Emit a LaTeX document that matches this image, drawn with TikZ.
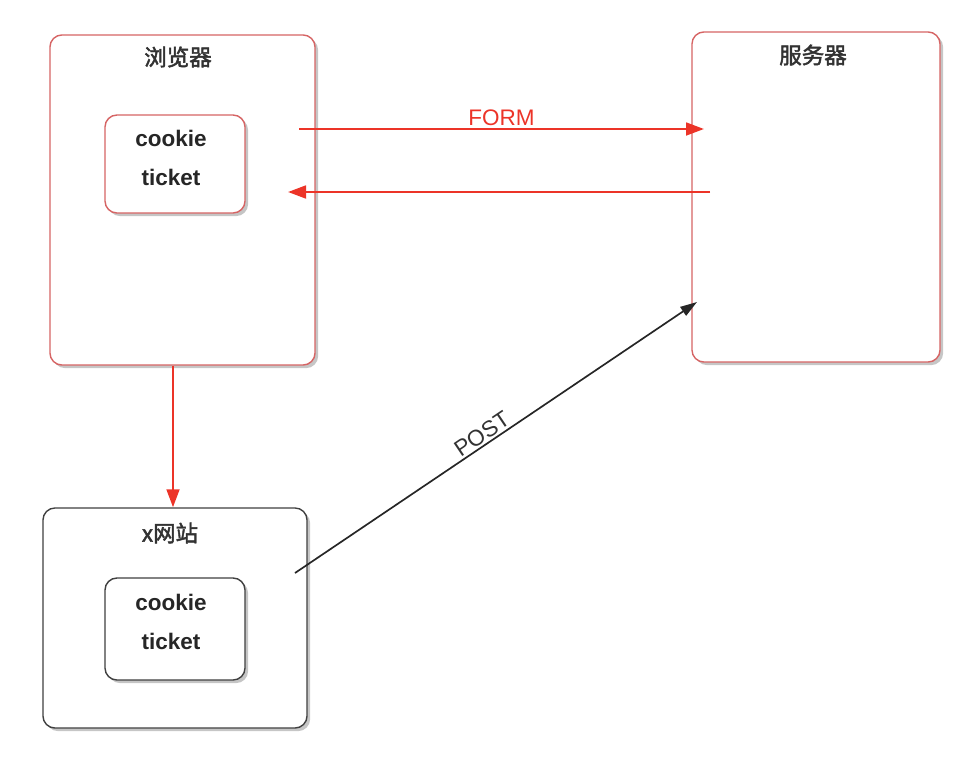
\documentclass[tikz,border=0pt]{standalone}
\usepackage{fontspec}
\setsansfont{Liberation Sans}
\newfontfamily\cjk{Noto Sans CJK SC}[FakeBold=2]
\usepackage{tikz}
\usetikzlibrary{arrows.meta,shadows}

\definecolor{boxred}{RGB}{214,100,100}
\definecolor{arrowred}{RGB}{236,52,40}
\definecolor{titlegrey}{RGB}{50,50,50}

\tikzset{
	panel/.style={draw=boxred, line width=1pt, rounded corners=.3cm, fill=white,
		drop shadow={shadow xshift=2.2pt, shadow yshift=-2.2pt, opacity=.45}},
	darkpanel/.style={panel, draw=black!75},
	paneltitle/.style={font=\cjk\fontsize{16}{16}\selectfont, text=titlegrey},
	tokentext/.style={font=\sffamily\bfseries\fontsize{16}{27.7}\selectfont, align=center, text=black!85},
	redarrow/.style={draw=arrowred, line width=1.7pt, -{Triangle[length=.45cm,width=.32cm]}},
	postarrow/.style={draw=black!85, line width=1.2pt, -{Triangle[length=.42cm,width=.26cm]}},
	arrowlabel/.style={font=\sffamily\fontsize{16}{16}\selectfont, inner sep=1.5pt}
}

\begin{document}
\begin{tikzpicture}[x=.025cm,y=-.025cm]
	\useasboundingbox (0,0) rectangle (980,763);

	% browser
	\node[panel, minimum width=6.625cm, minimum height=8.25cm] (browser) at (182.5,200) {};
	\node[paneltitle] (browsertitle) at (178,57) {浏览器};
	\node[panel, minimum width=3.5cm, minimum height=2.45cm] (cookiebox) at (175,164) {};
	\node[tokentext] (cookietext) at (171,158) {cookie\\ticket};

	% server
	\node[panel, minimum width=6.2cm, minimum height=8.25cm] (server) at (816,197) {};
	\node[paneltitle] (servertitle) at (813,55) {服务器};

	% x site
	\node[darkpanel, minimum width=6.6cm, minimum height=5.5cm] (xsite) at (175,618) {};
	\node[paneltitle] (xsitetitle) at (170,533) {x网站};
	\node[darkpanel, minimum width=3.5cm, minimum height=2.55cm] (xcookiebox) at (175,629) {};
	\node[tokentext] (xcookietext) at (171,622) {cookie\\ticket};

	\coordinate (formA) at (299,129);
	\coordinate (formB) at (704,129);
	\coordinate (backA) at (710,192);
	\coordinate (backB) at (288,192);
	\coordinate (postA) at (295,573);
	\coordinate (postB) at (697,302);

	\draw[redarrow] (formA) -- node[arrowlabel, above, text=arrowred] (formlabel) {FORM} (formB);
	\draw[redarrow] (backA) -- (backB);
	\draw[redarrow] (browser.south -| 173,0) -- (xsite.north -| 173,0);
	\draw[postarrow] (postA) -- node[arrowlabel, pos=.48, above, sloped, text=black!80] (postlabel) {POST} (postB);
\end{tikzpicture}
\end{document}
